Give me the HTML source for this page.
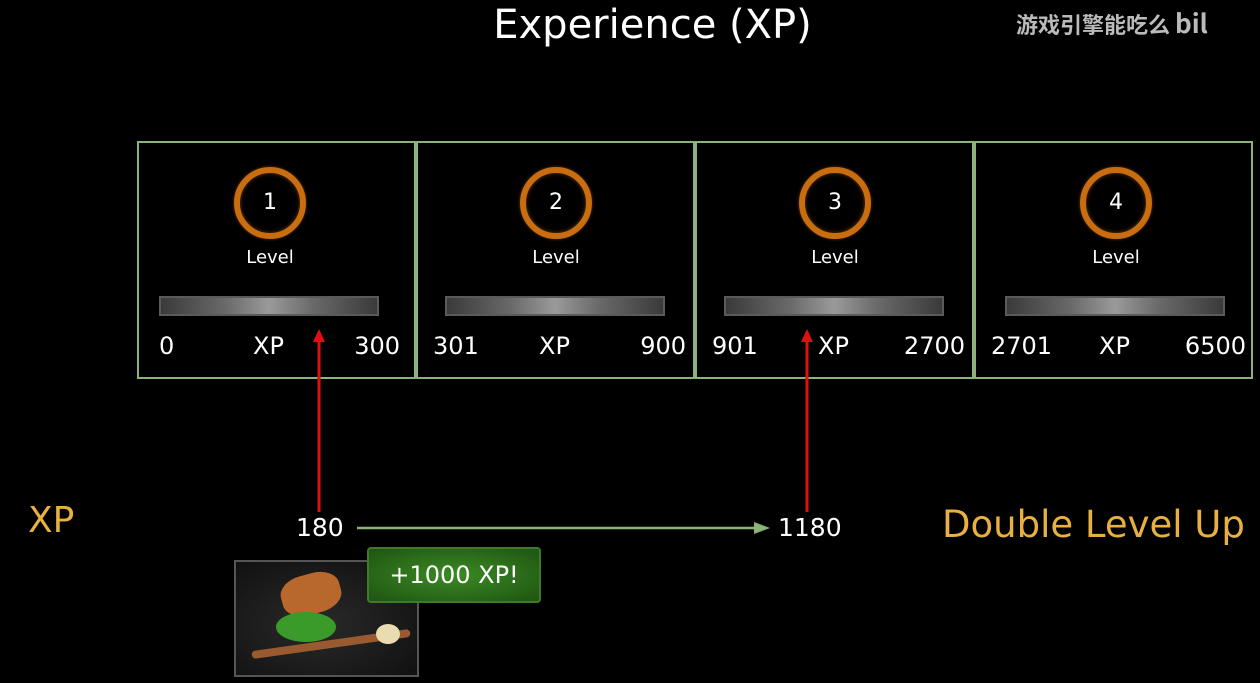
<!DOCTYPE html>
<html><head><meta charset="utf-8"><style>
body{margin:0;width:1260px;height:683px;background:#000;overflow:hidden;position:relative;font-family:"DejaVu Sans","Liberation Sans",sans-serif;color:#fff}
.a{position:absolute}
.box{position:absolute;top:141px;height:234px;border:2px solid #8db37a;box-sizing:content-box}
.ring{position:absolute;width:60px;height:60px;border-radius:50%;border:6px solid #c96e10;box-shadow:inset 0 0 4px #6a3a05,0 0 3px #6a3a05;text-align:center;line-height:60px;font-size:22px}
.bar{position:absolute;height:16px;border:2px solid #5a5a5a;background:linear-gradient(90deg,#3a3a3a,#6a6a6a 30%,#9a9a9a 50%,#6a6a6a 70%,#3a3a3a)}
.lab{position:absolute;font-size:24px}
</style></head><body>
<div class="a" style="left:0;width:1305px;text-align:center;top:2px;font-size:40px">Experience (XP)</div>
<div class="a" style="left:1016px;top:4px;font-size:22px;color:#bbb;font-family:'Noto Sans CJK SC',sans-serif;font-weight:bold">游戏引擎能吃么 <span style="font-size:26px">bil</span></div>
<div id="levels"></div>
<svg class="a" style="left:0;top:0" width="1260" height="683">
<line x1="319" y1="512" x2="319" y2="340" stroke="#e01010" stroke-width="3"/>
<path d="M313,342L319,329L325,342z" fill="#e01010"/>
<line x1="807" y1="512" x2="807" y2="340" stroke="#e01010" stroke-width="3"/>
<path d="M801,342L807,329L813,342z" fill="#e01010"/>
<line x1="357" y1="528" x2="758" y2="528" stroke="#8db37a" stroke-width="2.5"/>
<path d="M754,522L770,528L754,534z" fill="#8db37a"/>
</svg>
<div class="a" style="left:28px;top:500px;font-size:36px;color:#e8b040">XP</div>
<div class="a" style="left:296px;top:513px;font-size:25px">180</div>
<div class="a" style="left:778px;top:513px;font-size:25px">1180</div>
<div class="a" style="left:942px;top:503px;font-size:37px;color:#e8b040;white-space:nowrap">Double Level Up</div>
<div class="a" style="left:234px;top:560px;width:181px;height:113px;border:2px solid #555;background:radial-gradient(ellipse at 45% 55%,#2a2a2a,#0e0e0e)">
<div class="a" style="left:45px;top:12px;width:60px;height:40px;border-radius:40%;background:#b8682c;transform:rotate(-15deg)"></div>
<div class="a" style="left:40px;top:50px;width:60px;height:30px;border-radius:50%;background:#3a9a2a"></div>
<div class="a" style="left:15px;top:78px;width:160px;height:8px;border-radius:4px;background:#9a5a30;transform:rotate(-8deg)"></div>
<div class="a" style="left:140px;top:62px;width:24px;height:20px;border-radius:50%;background:#e8dcb0"></div>
</div>
<div class="a" style="left:367px;top:547px;width:170px;height:52px;border:2px solid #3e7a2a;border-radius:4px;background:radial-gradient(ellipse at 50% 50%,#3c8a24,#1e5412);font-size:24px;text-align:center;line-height:52px">+1000 XP!</div>
<script>
const levels=[1,2,3,4];
const minXP=[0,301,901,2701];
const maxXP=[300,900,2700,6500];
const shift=[0,7,7,9];
const c=document.getElementById('levels');
levels.forEach((lv,i)=>{
 const x=137+i*279;
 const s=shift[i];
 const b=document.createElement('div');b.className='box';b.style.left=x+'px';b.style.width='275px';
 
 
 b.innerHTML=`<div class="ring" style="left:${95+s}px;top:24px">${lv}</div>
 <div style="position:absolute;left:${s}px;width:262px;text-align:center;top:104px;font-size:18px">Level</div>
 <div class="bar" style="left:${20+s}px;top:153px;width:216px"></div>
 <div class="lab" style="left:${20+(i==0?0:-5)}px;top:189px">${minXP[i]}</div>
 <div class="lab" style="left:${114+s}px;top:189px">XP</div>
 <div class="lab" style="right:${14-s}px;top:189px">${maxXP[i]}</div>`;
 c.appendChild(b);
});
</script>
</body></html>
